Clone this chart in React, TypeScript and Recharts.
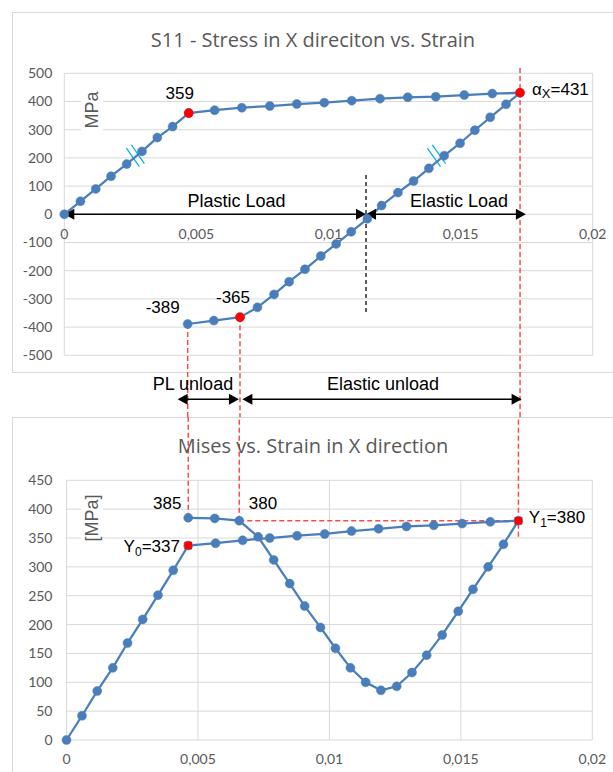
import React from 'react';
import { ComposedChart, Line, XAxis, YAxis, CartesianGrid, ReferenceLine, ReferenceDot } from 'recharts';

const BLUE = '#4A7EBB';
const RED = '#FF0000';
const DASH_RED = '#FF4A4A';
const CYAN = '#00B0F0';
const GRID = '#D9D9D9';
const TICK = '#595959';
const ANN_FONT = '"Liberation Sans", Arial, sans-serif';
const TICK_FONT = 'Lato, "Liberation Sans", sans-serif';
const TITLE_FONT = '"Open Sans", Lato, sans-serif';

// ---------- Top chart: S11 stress vs strain ----------
const topStrainLoad = [0, 0.00061, 0.00119, 0.00177, 0.00236, 0.00294, 0.00352, 0.0041, 0.00471, 0.00569, 0.00672, 0.00778, 0.0088, 0.00984, 0.01088, 0.01195, 0.013, 0.01406, 0.01514, 0.0162, 0.01725];
const topStressLoad = [0, 46, 90, 135, 178, 223, 272, 311, 359, 369, 378, 384, 391, 396, 403, 410, 415, 417, 423, 428, 431];
const topStrainUnload = [0.01672, 0.01612, 0.01554, 0.01498, 0.01438, 0.0138, 0.01322, 0.01263, 0.01201, 0.01147, 0.01086, 0.01029, 0.00971, 0.00911, 0.00851, 0.00794, 0.00731, 0.00665, 0.00566, 0.00467];
const topStressUnload = [390, 344, 298, 252, 208, 163, 118, 77, 31, -16, -62, -105, -148, -195, -239, -284, -330, -365, -377, -389];
const topHighlightStrain = [0.00471, 0.01725, 0.00665];
const topHighlightStress = [359, 431, -365];
const topYTicks = [-500, -400, -300, -200, -100, 0, 100, 200, 300, 400, 500];
const xTicks = [0, 0.005, 0.01, 0.015, 0.02];

// ---------- Bottom chart: Mises vs strain ----------
const botStrainLoad = [0, 0.00059, 0.00117, 0.00176, 0.00232, 0.0029, 0.00348, 0.00406, 0.00463, 0.00567, 0.0067, 0.00773, 0.00877, 0.00982, 0.01084, 0.01187, 0.01293, 0.01397, 0.01505, 0.01612, 0.01719];
const botMisesLoad = [0, 42, 85, 125, 168, 209, 251, 294, 337, 341, 346, 350, 354, 357, 362, 366, 370, 372, 375, 378, 380];
const botStrainUnload = [0.01662, 0.01604, 0.01546, 0.0149, 0.01429, 0.0137, 0.01314, 0.01256, 0.01196, 0.01138, 0.0108, 0.01023, 0.00966, 0.00906, 0.00849, 0.00788, 0.00729, 0.00657, 0.00564, 0.00463];
const botMisesUnload = [339, 300, 261, 223, 182, 147, 117, 93, 86, 100, 125, 159, 195, 232, 271, 312, 352, 380, 384, 385];
const botHighlightStrain = [0.00463, 0.01719];
const botHighlightMises = [337, 380];
const botYTicks = [0, 50, 100, 150, 200, 250, 300, 350, 400, 450];

// annotation spans (strain)
const plasticLoadSpan = [0, 0.01142];
const elasticLoadSpan = [0.01142, 0.01747];
const plUnloadSpan = [0.00429, 0.00661];
const elasticUnloadSpan = [0.00674, 0.01731];
const gapLevel = -656;

const topSeries = [
  ...topStrainLoad.map((x, i) => ({ x, y: topStressLoad[i] })),
  ...topStrainUnload.map((x, i) => ({ x, y: topStressUnload[i] })),
];
const botSeries = [
  ...botStrainLoad.map((x, i) => ({ x, y: botMisesLoad[i] })),
  ...botStrainUnload.map((x, i) => ({ x, y: botMisesUnload[i] })),
];

const fmt = (v: number) => String(v).replace('.', ',');

const Arrow = (p: any) => {
  const { x1, y1, x2, y2 } = p;
  const head = 10;
  const half = 5.5;
  return (
    <g>
      <line x1={x1 + head - 1} y1={y1} x2={x2 - head + 1} y2={y2} stroke="#000" strokeWidth={1.5} />
      <polygon points={`${x1},${y1} ${x1 + head},${y1 - half} ${x1 + head},${y1 + half}`} fill="#000" />
      <polygon points={`${x2},${y2} ${x2 - head},${y2 - half} ${x2 - head},${y2 + half}`} fill="#000" />
    </g>
  );
};

const txt = (text: React.ReactNode, dx: number, dy: number, anchor: string = 'middle', size: number = 17) => (p: any) => (
  <text x={p.cx + dx} y={p.cy + dy} textAnchor={anchor} fontFamily={ANN_FONT} fontSize={size} fill="#000">
    {text}
  </text>
);

const tickTxt = (label: string) => (p: any) => (
  <text x={p.cx} y={p.cy + 25} textAnchor="middle" fontFamily={TICK_FONT} fontSize={14} fill={TICK}>
    {label}
  </text>
);

const dashRed = { stroke: DASH_RED, strokeWidth: 1.5, strokeDasharray: '5 3' };
const dotStyle = { r: 4.5, fill: BLUE, stroke: BLUE, strokeWidth: 0.5 };

function TopChart() {
  return (
    <ComposedChart width={613} height={417} margin={{ top: 73.3, right: 20.3, bottom: 61.7, left: 0 }}>
      <CartesianGrid stroke={GRID} />
      <XAxis type="number" dataKey="x" domain={[0, 0.02]} ticks={xTicks} height={0} tick={false} axisLine={false} tickLine={false} />
      <YAxis type="number" domain={[-500, 500]} ticks={topYTicks} interval={0} width={64.3} tickSize={0} tickMargin={12}
        axisLine={false} tickLine={false} tick={{ fill: TICK, fontSize: 14, fontFamily: TICK_FONT }} />
      {xTicks.map((t) => (
        <ReferenceDot key={'xt' + t} x={t} y={0} r={0} ifOverflow="visible" shape={tickTxt(fmt(t))} />
      ))}
      {/* red dashed verticals */}
      <ReferenceLine segment={[{ x: 0.00467, y: -389 }, { x: 0.00467, y: -900 }]} ifOverflow="visible" {...dashRed} />
      <ReferenceLine segment={[{ x: 0.00665, y: -365 }, { x: 0.00665, y: -900 }]} ifOverflow="visible" {...dashRed} />
      <ReferenceLine segment={[{ x: 0.01725, y: 519 }, { x: 0.01725, y: -900 }]} ifOverflow="visible" {...dashRed} />
      {/* black dashed divider */}
      <ReferenceLine segment={[{ x: 0.01142, y: 139 }, { x: 0.01142, y: -357 }]} ifOverflow="visible" stroke="#000" strokeWidth={1.25} strokeDasharray="4 3" />
      {/* cyan break marks */}
      <ReferenceLine segment={[{ x: 0.00235, y: 235 }, { x: 0.00284, y: 169 }]} ifOverflow="visible" stroke={CYAN} strokeWidth={1.25} />
      <ReferenceLine segment={[{ x: 0.00254, y: 246 }, { x: 0.00303, y: 180 }]} ifOverflow="visible" stroke={CYAN} strokeWidth={1.25} />
      <ReferenceLine segment={[{ x: 0.01374, y: 235 }, { x: 0.01424, y: 169 }]} ifOverflow="visible" stroke={CYAN} strokeWidth={1.25} />
      <ReferenceLine segment={[{ x: 0.01393, y: 246 }, { x: 0.01443, y: 180 }]} ifOverflow="visible" stroke={CYAN} strokeWidth={1.25} />
      <Line data={topSeries} dataKey="y" type="linear" stroke={BLUE} strokeWidth={2.25}
        dot={dotStyle} activeDot={false} isAnimationActive={false} />
      {topHighlightStrain.map((x, i) => (
        <ReferenceDot key={'th' + i} x={x} y={topHighlightStress[i]} r={4.7} fill={RED} stroke="none" ifOverflow="visible" />
      ))}
      {/* arrows */}
      <ReferenceLine segment={[{ x: plasticLoadSpan[0], y: 0 }, { x: plasticLoadSpan[1], y: 0 }]} ifOverflow="visible" shape={Arrow} />
      <ReferenceLine segment={[{ x: elasticLoadSpan[0], y: 0 }, { x: elasticLoadSpan[1], y: 0 }]} ifOverflow="visible" shape={Arrow} />
      <ReferenceLine segment={[{ x: plUnloadSpan[0], y: gapLevel }, { x: plUnloadSpan[1], y: gapLevel }]} ifOverflow="visible" shape={Arrow} />
      <ReferenceLine segment={[{ x: elasticUnloadSpan[0], y: gapLevel }, { x: elasticUnloadSpan[1], y: gapLevel }]} ifOverflow="visible" shape={Arrow} />
      {/* text annotations */}
      <ReferenceDot x={0.00652} y={0} r={0} ifOverflow="visible" shape={txt('Plastic Load', 0, -7.6, 'middle', 18)} />
      <ReferenceDot x={0.01494} y={0} r={0} ifOverflow="visible" shape={txt('Elastic Load', 0, -7.6, 'middle', 18)} />
      <ReferenceDot x={0.00487} y={-623} r={0} ifOverflow="visible" shape={txt('PL unload', 0, 0, 'middle', 18)} />
      <ReferenceDot x={0.01206} y={-623} r={0} ifOverflow="visible" shape={txt('Elastic unload', 0, 0, 'middle', 18)} />
      <ReferenceDot x={0.00471} y={359} r={0} ifOverflow="visible" shape={txt('359', -9, -13.8)} />
      <ReferenceDot x={0.00467} y={-389} r={0} ifOverflow="visible" shape={txt('-389', -25, -10.7)} />
      <ReferenceDot x={0.00665} y={-365} r={0} ifOverflow="visible" shape={txt('-365', -7, -13.9)} />
      <ReferenceDot x={0.01725} y={431} r={0} ifOverflow="visible"
        shape={txt(<><tspan>α</tspan><tspan fontSize={13} dy={3}>X</tspan><tspan dy={-3}>=431</tspan></>, 12, 2.5, 'start')} />
    </ComposedChart>
  );
}

function BottomChart() {
  return (
    <ComposedChart width={613} height={355} margin={{ top: 63.3, right: 20.7, bottom: 0, left: 0 }}>
      <CartesianGrid stroke={GRID} />
      <XAxis type="number" dataKey="x" domain={[0, 0.02]} ticks={xTicks} interval={0} tickFormatter={fmt} height={32}
        tickSize={0} tickMargin={14} axisLine={false} tickLine={false} tick={{ fill: TICK, fontSize: 14, fontFamily: TICK_FONT }} />
      <YAxis type="number" domain={[0, 450]} ticks={botYTicks} interval={0} width={66.5} tickSize={0} tickMargin={14}
        axisLine={false} tickLine={false} tick={{ fill: TICK, fontSize: 14, fontFamily: TICK_FONT }} />
      <ReferenceLine segment={[{ x: 0.00463, y: 385 }, { x: 0.00463, y: 700 }]} ifOverflow="visible" {...dashRed} />
      <ReferenceLine segment={[{ x: 0.00657, y: 380 }, { x: 0.00657, y: 700 }]} ifOverflow="visible" {...dashRed} />
      <ReferenceLine segment={[{ x: 0.01719, y: 352 }, { x: 0.01719, y: 700 }]} ifOverflow="visible" {...dashRed} />
      <ReferenceLine segment={[{ x: 0.00657, y: 380 }, { x: 0.01719, y: 380 }]} ifOverflow="visible" {...dashRed} />
      <Line data={botSeries} dataKey="y" type="linear" stroke={BLUE} strokeWidth={2.25}
        dot={dotStyle} activeDot={false} isAnimationActive={false} />
      {botHighlightStrain.map((x, i) => (
        <ReferenceDot key={'bh' + i} x={x} y={botHighlightMises[i]} r={4} ifOverflow="visible"
          shape={(p: any) => <rect x={p.cx - 3.8} y={p.cy - 3.8} width={7.6} height={7.6} fill={RED} />} />
      ))}
      <ReferenceDot x={0.00463} y={385} r={0} ifOverflow="visible" shape={txt('385', -21, -8.8)} />
      <ReferenceDot x={0.00657} y={380} r={0} ifOverflow="visible" shape={txt('380', 23.8, -11.7)} />
      <ReferenceDot x={0.00463} y={337} r={0} ifOverflow="visible"
        shape={txt(<><tspan>Y</tspan><tspan fontSize={12} dy={4}>0</tspan><tspan dy={-4}>=337</tspan></>, -8.3, 6, 'end')} />
      <ReferenceDot x={0.01719} y={380} r={0} ifOverflow="visible"
        shape={txt(<><tspan>Y</tspan><tspan fontSize={12} dy={4}>1</tspan><tspan dy={-4}>=380</tspan></>, 10.4, 2.6, 'start')} />
    </ComposedChart>
  );
}

export default function App() {
  return (
    <div style={{ position: 'absolute', left: 0, top: 0, width: 613, height: 772, background: '#fff', overflow: 'hidden' }}>
      <div style={{ position: 'absolute', left: 11.5, top: 11.5, width: 640, height: 361, border: '1.5px solid #D9D9D9', boxSizing: 'border-box' }} />
      <div style={{ position: 'absolute', left: 11.5, top: 416.5, width: 640, height: 400, border: '1.5px solid #D9D9D9', boxSizing: 'border-box' }} />
      <div style={{ position: 'absolute', left: 0, top: 0 }}>
        <TopChart />
      </div>
      <div style={{ position: 'absolute', left: 0, top: 417 }}>
        <BottomChart />
      </div>
      <svg style={{ position: 'absolute', left: 0, top: 0, pointerEvents: 'none' }} width={613} height={772}>
        <text x={313} y={46.7} textAnchor="middle" fontFamily={TITLE_FONT} fontSize={20} fill={TICK}>S11 - Stress in X direciton vs. Strain</text>
        <text x={313} y={452.7} textAnchor="middle" fontFamily={TITLE_FONT} fontSize={20} fill={TICK}>Mises vs. Strain in X direction</text>
        <rect x={81} y={89} width={22} height={42} fill="#fff" />
        <text transform="translate(91.7,110) rotate(-90)" textAnchor="middle" dominantBaseline="central" fontFamily={ANN_FONT} fontSize={18} fill={TICK}>MPa</text>
        <rect x={81} y={491} width={22} height={54} fill="#fff" />
        <text transform="translate(91.7,518) rotate(-90)" textAnchor="middle" dominantBaseline="central" fontFamily={ANN_FONT} fontSize={18} fill={TICK}>[MPa]</text>
      </svg>
    </div>
  );
}
